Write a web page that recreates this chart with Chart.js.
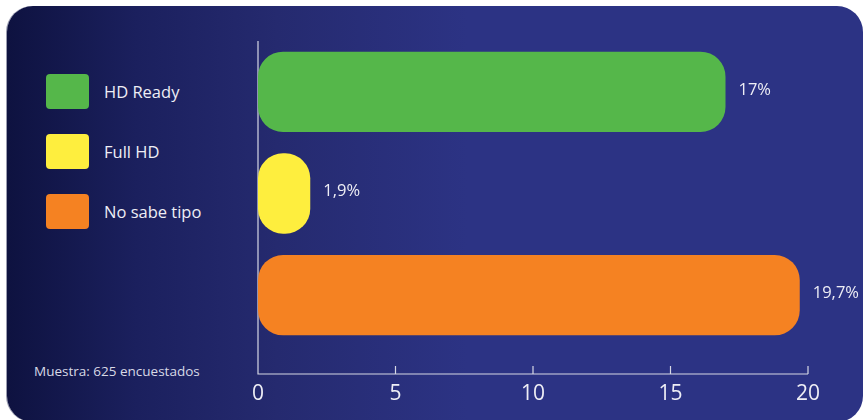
<!DOCTYPE html>
<html>
<head>
<meta charset="utf-8">
<script src="https://cdn.jsdelivr.net/npm/chart.js@4/dist/chart.umd.min.js"></script>
<style>
    html, body { margin: 0; padding: 0; background: #ffffff; }
    body { width: 863px; height: 420px; position: relative; overflow: hidden; font-family: "Open Sans", "Noto Sans", sans-serif; }
    #panel {
        position: absolute; left: 7px; top: 6px; width: 856px; height: 416px;
        border-radius: 26px;
        background: linear-gradient(to right, #0e1240 0px, #1b205e 130px, #252a6f 270px, #2c3384 460px);
        box-shadow: -1px 0 0 #9a9cb0;
    }
    #chart-wrap { position: absolute; left: 0; top: 0; width: 863px; height: 420px; }
    #legend { position: absolute; left: 46px; top: 74px; }
    .legend-item { display: flex; align-items: center; height: 35px; margin-bottom: 25px; }
    .legend-box { width: 43px; height: 35px; border-radius: 4px; margin-right: 15px; }
    .legend-text { color: #eeeef5; font-size: 16.5px; }
    #note { position: absolute; left: 34px; top: 362px; color: #d8d9e6; font-size: 13.5px; }
</style>
</head>
<body>
<div id="panel"></div>
<div id="legend"></div>
<div id="note">Muestra: 625 encuestados</div>
<div id="chart-wrap"><canvas id="myChart" width="863" height="420"></canvas></div>
<script>
const categories = ["HD Ready", "Full HD", "No sabe tipo"];
const values = [17, 1.9, 19.7];
const valueLabels = ["17%", "1,9%", "19,7%"];
const barColors = ["#55b74a", "#feee3e", "#f58222"];
const xTicks = [0, 5, 10, 15, 20];

// legend built from the same arrays
for (const i in categories) {
    const item = document.createElement("div");
    item.className = "legend-item";
    item.innerHTML = `<div class="legend-box" style="background:${barColors[i]}"></div><span class="legend-text">${categories[i]}</span>`;
    document.getElementById("legend").appendChild(item);
}

const axisLines = {
    id: "axisLines",
    beforeDatasetsDraw(chart) {
        const ctx = chart.ctx;
        const x = chart.scales.x;
        const x0 = x.getPixelForValue(0);
        const yAxis = 374;
        ctx.save();
        ctx.strokeStyle = "#d6d7e4";
        ctx.lineWidth = 1.2;
        ctx.beginPath();
        ctx.moveTo(x0, 41);
        ctx.lineTo(x0, yAxis);
        ctx.lineTo(x.getPixelForValue(20), yAxis);
        for (const t of xTicks.slice(1)) {
            const px = x.getPixelForValue(t);
            ctx.moveTo(px, yAxis);
            ctx.lineTo(px, yAxis - 8);
        }
        ctx.stroke();
        ctx.restore();
    }
};

const valueText = {
    id: "valueText",
    afterDatasetsDraw(chart) {
        const ctx = chart.ctx;
        const meta = chart.getDatasetMeta(0);
        ctx.save();
        ctx.fillStyle = "#eeeef5";
        ctx.font = '16.5px "Open Sans"';
        ctx.textBaseline = "middle";
        ctx.textAlign = "left";
        meta.data.forEach((bar, i) => {
            ctx.fillText(valueLabels[i], bar.x + 13, bar.y - 2);
        });
        ctx.restore();
    }
};

new Chart(document.getElementById("myChart"), {
    type: "bar",
    data: {
        labels: categories,
        datasets: [{
            data: values,
            backgroundColor: barColors,
            borderRadius: 25,
            borderSkipped: false,
            barPercentage: 0.79,
            categoryPercentage: 1
        }]
    },
    options: {
        indexAxis: "y",
        responsive: false,
        animation: false,
        layout: { padding: { left: 258, right: 55, top: 41, bottom: 0 } },
        plugins: { legend: { display: false }, tooltip: { enabled: false } },
        scales: {
            y: { display: false },
            x: {
                min: 0,
                max: 20,
                afterFit: s => { s.height = 74; },
                afterBuildTicks: s => { s.ticks = xTicks.map(v => ({ value: v })); },
                grid: { display: false, drawTicks: false },
                border: { display: false },
                ticks: {
                    color: "#eeeef5",
                    font: { family: "Open Sans", size: 21 },
                    padding: 35,
                    maxRotation: 0
                }
            }
        }
    },
    plugins: [axisLines, valueText]
});
</script>
</body>
</html>
